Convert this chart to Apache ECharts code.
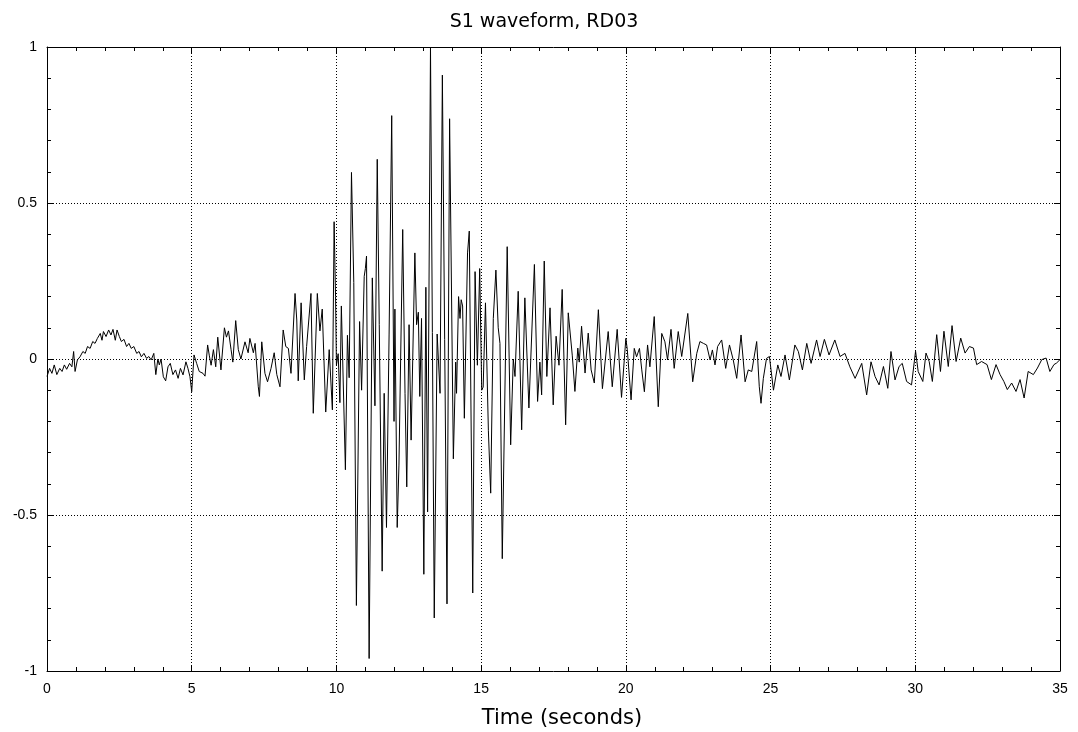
<!DOCTYPE html>
<html>
<head>
<meta charset="utf-8">
<script src="https://cdn.jsdelivr.net/npm/echarts@6/dist/echarts.min.js"></script>
<style>html,body{margin:0;padding:0;background:#fff}#c{width:1078px;height:732px}</style>
</head>
<body>
<div id="c"></div>
<script>
const chartTitle = 'S1 waveform, RD03';
const xAxisTitle = 'Time (seconds)';
const xTicks = [0, 5, 10, 15, 20, 25, 30, 35];
const yTicks = [-1, -0.5, 0, 0.5, 1];

// time (s) of each sample
const timeSec = [
 0.00,0.09,0.17,0.25,0.34,0.44,0.52,0.60,0.68,0.78,0.86,0.92,0.97,1.05,1.14,1.24,1.32,1.40,1.49,1.58,1.66,1.74,1.84,1.90,1.95,2.04,2.13,2.21,2.28,2.36,2.42,2.50,2.57,2.66,2.75,2.83,2.91,3.00,3.10,3.18,3.26,3.35,3.44,3.52,3.60,3.69,3.76,3.83,3.88,3.94,4.02,4.10,4.18,4.26,4.35,4.44,4.53,4.61,4.70,4.80,4.87,4.94,5.00,5.08,5.17,5.26,5.39,
 5.46,5.55,5.61,5.67,5.75,5.83,5.90,6.01,6.13,6.20,6.27,6.36,6.42,6.52,6.61,6.70,6.84,6.95,7.01,7.13,7.19,7.30,7.34,7.42,7.53,7.62,7.74,7.85,7.94,8.05,8.16,8.25,8.34,8.43,8.57,8.63,8.68,8.78,8.89,8.97,9.12,9.20,9.34,9.43,9.51,9.63,9.75,9.86,9.92,9.97,
 10.00,10.06,10.12,10.17,10.31,10.38,10.44,10.52,10.60,10.69,10.80,10.87,10.96,11.00,11.04,11.13,11.24,11.33,11.41,11.48,11.58,11.65,11.73,11.82,11.91,11.99,12.02,12.10,12.16,12.29,12.37,12.43,12.51,12.58,12.71,12.77,12.83,12.88,12.94,
 13.02,13.09,13.15,13.25,13.38,13.48,13.58,13.66,13.82,13.91,14.04,14.12,14.15,14.22,14.27,14.31,14.36,14.42,14.53,14.59,14.71,14.79,14.87,14.95,
 15.02,15.07,15.15,15.25,15.33,15.42,15.51,15.59,15.65,15.73,15.90,16.02,16.11,16.17,16.28,16.40,16.51,16.65,16.84,16.95,17.03,17.09,17.18,17.27,17.38,17.49,17.59,17.69,17.80,17.92,18.01,18.15,18.24,18.34,18.39,18.47,18.59,18.70,18.80,18.91,19.05,19.19,19.39,19.53,19.70,19.85,
 20.00,20.05,20.18,20.29,20.37,20.47,20.55,20.64,20.75,20.83,20.98,21.12,21.24,21.35,21.44,21.56,21.67,21.81,21.93,22.14,22.31,22.45,22.56,22.68,22.79,22.91,22.99,23.08,23.17,23.31,23.45,23.58,23.71,23.83,23.98,24.12,24.23,24.35,24.52,24.61,24.67,24.75,24.86,24.96,
 25.10,25.25,25.36,25.50,25.65,25.84,25.96,26.10,26.25,26.40,26.59,26.71,26.86,27.02,27.22,27.40,27.57,27.74,27.92,28.15,28.32,28.47,28.61,28.75,28.90,29.05,29.16,29.30,29.44,29.55,29.70,29.87,
 30.01,30.10,30.26,30.37,30.48,30.59,30.74,30.87,30.99,31.14,31.27,31.41,31.57,31.72,31.87,32.01,32.12,32.29,32.48,32.63,32.79,32.93,33.06,33.18,33.33,33.48,33.62,33.76,33.90,34.08,34.22,34.37,34.52,34.65,34.79,34.88,35.00
];

// amplitude of each sample
const amplitude = [
 -0.056,-0.030,-0.046,-0.019,-0.050,-0.030,-0.040,-0.019,-0.033,-0.014,-0.025,0.024,-0.040,-0.003,0.007,0.024,0.018,0.040,0.034,0.056,0.050,0.066,0.082,0.060,0.088,0.072,0.093,0.077,0.095,0.060,0.093,0.072,0.056,0.063,0.040,0.050,0.034,0.040,0.018,0.024,0.007,0.018,0.002,0.008,-0.003,0.018,-0.050,0.000,-0.019,0.000,-0.057,-0.070,-0.025,-0.014,-0.050,-0.035,-0.062,-0.030,-0.051,-0.009,-0.030,-0.057,-0.105,0.013,-0.014,-0.040,-0.046,
 -0.055,0.045,0.010,-0.020,0.030,-0.025,0.070,-0.035,0.100,0.070,0.090,0.030,-0.010,0.123,0.030,0.000,0.055,0.020,0.066,0.020,0.050,-0.089,-0.120,0.055,-0.046,-0.073,-0.030,0.020,-0.050,-0.089,0.093,0.040,0.034,-0.046,0.210,0.125,-0.070,0.180,-0.067,0.040,0.210,-0.174,0.210,0.090,0.160,-0.170,0.030,-0.163,0.440,0.200,
 -0.020,0.017,-0.140,0.170,-0.355,0.076,-0.060,0.598,0.245,-0.790,0.120,-0.100,0.265,0.290,0.330,-0.960,0.260,-0.150,0.640,0.110,-0.680,-0.110,-0.540,0.080,0.780,-0.200,0.160,-0.540,-0.340,0.415,-0.110,-0.410,0.110,-0.260,0.340,0.110,0.150,-0.120,0.130,
 -0.690,0.230,-0.490,1.000,-0.830,0.080,-0.110,0.910,-0.785,0.770,-0.320,-0.010,-0.110,0.200,0.130,0.190,0.170,-0.190,0.340,0.410,-0.750,0.280,-0.020,0.290,
 -0.100,-0.090,0.180,-0.230,-0.430,0.130,0.285,0.100,0.050,-0.640,0.360,-0.275,0.000,-0.056,0.217,-0.227,0.196,-0.157,0.303,-0.136,-0.010,-0.115,0.314,-0.056,0.164,-0.147,0.073,-0.020,0.223,-0.211,0.148,0.010,-0.104,0.035,-0.010,0.105,-0.045,0.083,-0.035,-0.077,0.158,-0.095,0.088,-0.089,0.095,-0.123,
 0.066,0.030,-0.131,0.034,0.007,0.034,-0.035,-0.105,0.045,-0.025,0.136,-0.153,0.082,0.055,-0.003,0.095,-0.030,0.088,0.008,0.146,-0.073,0.018,0.056,0.050,0.045,-0.003,0.029,-0.019,0.040,0.061,-0.030,0.045,-0.003,-0.062,0.077,-0.073,-0.035,-0.040,0.056,-0.089,-0.142,-0.062,0.002,0.008,
 -0.100,-0.019,-0.056,0.013,-0.067,0.045,0.024,-0.035,0.050,-0.014,0.061,0.008,0.063,0.013,0.061,0.008,0.018,-0.025,-0.062,-0.014,-0.115,-0.009,-0.056,-0.083,-0.024,-0.094,0.024,-0.067,-0.024,-0.014,-0.072,-0.083,
 0.025,-0.040,-0.072,0.019,-0.008,-0.072,0.078,-0.040,0.089,-0.024,0.107,-0.008,0.067,0.019,0.040,0.035,-0.018,-0.008,-0.018,-0.066,-0.018,-0.050,-0.072,-0.098,-0.077,-0.104,-0.066,-0.125,-0.040,-0.050,-0.029,-0.002,0.003,-0.040,-0.018,-0.013,-0.002
];

const seriesData = timeSec.map((t, i) => [t, amplitude[i]]);

const chart = echarts.init(document.getElementById('c'), null, {renderer: 'canvas'});
const tickFont = {fontFamily: 'Liberation Sans', fontSize: 14, color: '#000'};
const gridDots = {color: '#000', width: 1, type: [1, 2]};
chart.setOption({
  animation: false,
  backgroundColor: '#fff',
  title: [
    {text: chartTitle, left: 539, top: 8, textAlign: 'center',
     textStyle: {fontFamily: 'DejaVu Sans', fontSize: 19, fontWeight: 'normal', color: '#000'}},
    {text: xAxisTitle, left: 557, top: 703, textAlign: 'center',
     textStyle: {fontFamily: 'DejaVu Sans', fontSize: 21, fontWeight: 'normal', color: '#000'}}
  ],
  grid: {left: 47, right: 18, top: 47, bottom: 61, containLabel: false},
  xAxis: [
    {type: 'value', position: 'bottom', min: xTicks[0], max: xTicks[xTicks.length - 1], interval: 5,
     axisLine: {show: true, onZero: false, lineStyle: {color: '#000', width: 1}},
     axisTick: {show: true, inside: true, length: 6, lineStyle: {color: '#000'}},
     minorTick: {show: true, splitNumber: 5, length: 4, lineStyle: {color: '#000'}},
     axisLabel: Object.assign({margin: 11}, tickFont),
     splitLine: {show: true, lineStyle: gridDots}},
    {type: 'value', position: 'top', min: xTicks[0], max: xTicks[xTicks.length - 1], interval: 5,
     axisLine: {show: true, onZero: false, lineStyle: {color: '#000', width: 1}},
     axisTick: {show: true, inside: true, length: 6, lineStyle: {color: '#000'}},
     minorTick: {show: true, splitNumber: 5, length: 4, lineStyle: {color: '#000'}},
     axisLabel: {show: false}, splitLine: {show: false}}
  ],
  yAxis: [
    {type: 'value', position: 'left', min: yTicks[0], max: yTicks[yTicks.length - 1], interval: 0.5,
     axisLine: {show: true, onZero: false, lineStyle: {color: '#000', width: 1}},
     axisTick: {show: true, inside: true, length: 6, lineStyle: {color: '#000'}},
     minorTick: {show: true, splitNumber: 5, length: 4, lineStyle: {color: '#000'}},
     axisLabel: Object.assign({margin: 10}, tickFont),
     splitLine: {show: true, lineStyle: gridDots}},
    {type: 'value', position: 'right', min: yTicks[0], max: yTicks[yTicks.length - 1], interval: 0.5,
     axisLine: {show: true, onZero: false, lineStyle: {color: '#000', width: 1}},
     axisTick: {show: true, inside: true, length: 6, lineStyle: {color: '#000'}},
     minorTick: {show: true, splitNumber: 5, length: 4, lineStyle: {color: '#000'}},
     axisLabel: {show: false}, splitLine: {show: false}}
  ],
  series: [{
    type: 'line', xAxisIndex: 0, yAxisIndex: 0, data: seriesData,
    showSymbol: false, symbol: 'none', smooth: false,
    lineStyle: {color: '#000', width: 1}
  }]
});
</script>
</body>
</html>
